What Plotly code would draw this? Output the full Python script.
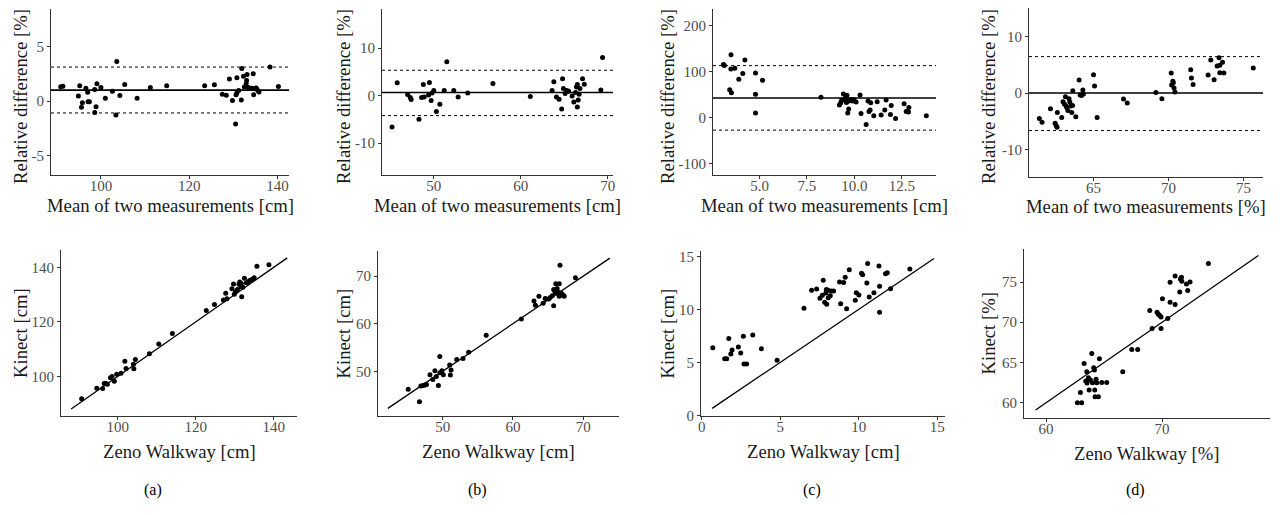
import plotly.graph_objects as go

# (a) top: Bland-Altman, mean [cm] vs relative difference [%]
a_ba_mean = [90.9, 91.4, 94.9, 95.2, 95.6, 95.8, 96.6, 97.0, 97.1, 97.4, 98.6, 98.6, 98.9, 99.1,
             100.0, 101.0, 102.6, 103.6, 103.4, 104.3, 105.4, 108.2, 111.2, 114.9, 123.5, 125.7,
             127.5, 128.4, 129.1, 129.8, 130.5, 130.6, 130.8, 130.8, 131.2, 131.8, 131.9, 132.3,
             132.5, 132.9, 133.0, 133.1, 133.4, 133.9, 134.3, 134.5, 134.6, 135.1, 135.2, 135.5,
             135.8, 138.3, 140.2]
a_ba_diff = [1.33, 1.39, 0.49, 1.42, -0.56, -0.15, 1.2, 0.83, -0.06, -0.06, 1.08, -1.05, -0.52, 1.6,
             1.27, 0.28, 0.93, 3.67, -1.27, 0.52, 1.54, 0.28, 1.27, 1.42, 1.42, 1.51,
             0.65, 0.56, 2.04, 0.06, -2.1, 0.59, 2.16, 0.77, 0.99, 0.12, 3.02, 2.31,
             1.30, 1.6, 1.91, 2.47, 1.27, 1.2, 1.2, 2.53, 0.59, 1.2, 1.23, 1.02,
             0.86, 3.15, 1.36]
# (a) bottom: Zeno vs Kinect [cm]
a_zeno = [90.7, 94.6, 96.1, 96.5, 97.0, 97.3, 98.1, 98.5, 99.1, 99.7, 100.8, 101.8, 102.1, 104.0,
          104.1, 104.5, 108.1, 110.5, 114.0, 122.7, 124.8, 127.1, 127.7, 128.0, 129.3, 129.7,
          129.9, 130.2, 130.7, 131.1, 131.3, 131.6, 131.7, 131.8, 132.1, 132.5, 133.0, 133.3,
          133.8, 134.4, 135.0, 135.7, 138.8]
a_kinect = [91.7, 95.6, 95.5, 97.3, 97.3, 97.1, 99.5, 99.9, 98.2, 100.7, 101.1, 105.5, 102.9, 104.4,
            102.8, 106.2, 108.3, 111.9, 115.7, 124.2, 126.4, 128.0, 130.5, 128.5, 132.2, 133.9,
            130.1, 131.1, 131.9, 133.8, 134.6, 132.9, 134.1, 129.2, 132.7, 136.0, 134.4, 134.5,
            135.2, 135.6, 136.2, 140.4, 141.0]

# (b)
b_ba_mean = [45.2, 45.8, 47.0, 47.3, 47.4, 48.3, 48.6, 48.8, 48.9, 49.4, 49.5, 49.7, 49.8, 50.0,
             50.7, 50.3, 51.2, 51.5, 52.3, 52.8, 53.9, 56.8, 61.1, 63.6, 63.8, 64.1, 64.4, 64.7,
             64.8, 64.9, 65.1, 65.3, 65.5, 65.9, 66.1, 66.3, 66.4, 66.5, 66.5, 66.6, 66.7, 66.8,
             67.1, 67.3, 69.2, 69.4]
b_ba_diff = [-6.6, 2.67, 0.21, -0.42, -0.84, -4.98, -0.42, 2.32, -0.28, 0.14, 2.74, -1.05, 0.56, 1.05,
             -1.82, -3.37, 1.05, 7.09, 1.05, -0.28, 0.56, 2.53, -0.21, 1.05, 2.88, -0.28, -0.77, -2.81,
             3.51, 1.47, 0.42, 1.05, 0.91, -0.07, -1.33, 0.63, 1.82, 2.32, -2.39, -0.91, 0.28, 1.47,
             3.51, 2.39, 1.19, 8.0]
b_zeno = [45.1, 46.7, 46.9, 47.2, 47.5, 47.7, 48.2, 48.6, 48.9, 49.1, 49.4, 49.6, 49.6, 49.9, 50.1,
          51.0, 51.2, 51.1, 52.0, 52.9, 53.7, 56.2, 61.2, 63.0, 63.2, 63.7, 64.3, 64.6, 65.1, 65.3,
          65.6, 65.8, 65.8, 66.0, 66.1, 66.2, 66.3, 66.5, 66.6, 66.6, 66.7, 66.9, 67.2, 67.3, 68.9]
b_kinect = [46.2, 43.6, 46.9, 47.0, 47.1, 47.2, 49.3, 48.3, 50.1, 48.9, 47.0, 53.1, 49.7, 50.1, 49.3,
            51.3, 50.3, 49.2, 52.5, 52.7, 54.0, 57.6, 61.0, 64.8, 63.9, 65.8, 64.3, 65.3, 65.2, 65.5,
            65.9, 63.8, 67.2, 66.7, 68.4, 66.4, 67.4, 66.6, 68.4, 65.8, 72.3, 66.4, 66.0, 65.8, 69.7]

# (c)
c_ba_mean = [3.10, 3.15, 3.50, 3.49, 3.70, 3.43, 3.52, 3.91, 4.12, 4.23, 4.79, 4.79, 4.79, 5.16,
             8.24, 9.21, 9.28, 9.33, 9.42, 9.47, 9.54, 9.61, 9.58, 9.65, 9.70, 9.72, 9.81, 9.91,
             9.98, 10.09, 10.30, 10.35, 10.62, 10.72, 10.77, 10.86, 10.83, 11.02, 11.20, 11.41,
             11.60, 11.67, 11.90, 11.94, 12.17, 12.62, 12.73, 12.85, 12.87, 13.79]
c_ba_diff = [115.3, 113.1, 136.5, 105.8, 107.3, 60.6, 54.0, 83.2, 95.6, 125.5, 97.1, 50.4, 9.5, 81.0,
             43.8, 27.0, 32.1, 38.0, 51.1, 38.0, 43.1, 48.2, 32.8, 9.5, 18.2, 35.8, 39.4, 35.8,
             38.7, 33.6, 48.9, 8.8, -15.3, 35.8, 13.1, 32.1, 16.1, 3.6, 34.3, 5.1,
             16.1, 38.0, 6.6, 26.3, -2.2, 29.9, 13.1, 11.7, 21.9, 3.6]
c_zeno = [0.70, 1.46, 1.59, 1.72, 1.85, 1.93, 2.33, 2.48, 2.65, 2.69, 2.86, 3.25, 3.80, 4.80,
          6.51, 7.00, 7.32, 7.53, 7.74, 7.68, 7.83, 7.91, 7.94, 7.96, 8.06, 8.04, 8.19, 8.25, 8.40,
          8.78, 8.85, 9.04, 9.14, 9.23, 9.40, 9.78, 9.85, 10.01, 10.18, 10.25, 10.52, 10.57, 10.67,
          10.97, 11.29, 11.33, 11.33, 11.71, 11.82, 12.03, 13.26]
c_kinect = [6.38, 5.35, 5.35, 7.26, 5.79, 6.16, 6.45, 5.88, 7.45, 4.84, 4.84, 7.58, 6.29, 5.19,
            10.09, 11.79, 11.92, 11.04, 12.74, 11.32, 10.66, 11.54, 11.86, 10.47, 11.10, 11.79, 11.29,
            11.73, 11.73, 12.58, 10.53, 12.52, 13.02, 10.06, 13.74, 10.85, 11.57, 11.35, 13.40, 13.27,
            12.48, 14.31, 11.16, 11.57, 14.09, 12.17, 9.72, 13.36, 13.46, 11.95, 13.81]

# (d)
d_ba_mean = [61.39, 61.57, 62.13, 62.44, 62.51, 62.57, 62.59, 62.88, 62.97, 63.06, 63.13, 63.17,
             63.22, 63.29, 63.37, 63.42, 63.49, 63.55, 63.60, 63.62, 63.82, 64.04, 64.11, 64.20,
             64.29, 64.33, 65.0, 65.07, 65.24, 67.0, 67.25, 69.16, 69.56, 70.18, 70.21, 70.29,
             70.32, 70.37, 70.43, 71.48, 71.53, 71.64, 72.64, 72.82, 73.04, 73.24, 73.37, 73.42,
             73.42, 73.60, 73.69, 75.65]
d_ba_diff = [-4.51, -5.16, -2.79, -5.34, -5.76, -6.05, -3.44, -4.33, -1.54, -1.96, -0.65, -2.31,
             -2.55, -3.09, -1.01, -1.60, -2.31, -3.44, -2.20, 0.42, -4.21, 2.31, -0.36, -0.42,
             0.53, -0.18, 3.26, 1.25, -4.33, -1.07, -1.78, 0.12, -1.01, 3.56, 1.42, 2.08,
             1.84, 0.89, 0.18, 4.15, 2.67, 1.54, 3.20, 5.88, 2.37, 4.81, 6.29, 4.93,
             3.62, 5.46, 3.56, 4.45]
d_zeno = [62.70, 63.07, 62.96, 63.28, 63.42, 63.51, 63.53, 63.65, 63.71, 63.82, 63.94, 64.0, 64.11,
          64.17, 64.20, 64.22, 64.31, 64.37, 64.51, 64.60, 64.80, 65.23, 66.61, 67.39, 67.90, 68.94,
          69.14, 69.57, 69.68, 69.80, 69.91, 69.91, 70.03, 70.49, 70.69, 70.69, 71.12, 71.12, 71.52,
          71.58, 71.67, 71.70, 72.10, 72.21, 72.41, 73.99]
d_kinect = [60.0, 60.0, 61.28, 64.88, 62.69, 63.84, 62.44, 63.10, 61.57, 62.81, 66.12, 62.48, 64.34,
            64.05, 61.57, 60.74, 62.93, 62.48, 60.74, 65.45, 62.52, 62.52, 63.84, 66.61, 66.61, 71.45,
            69.21, 71.24, 70.99, 70.83, 70.66, 69.21, 72.93, 70.45, 74.96, 72.48, 75.74, 72.19, 73.76,
            75.37, 75.58, 75.08, 74.75, 73.93, 75.0, 77.31]

# bias and limits of agreement per panel
ba_bias = [1.02, 0.63, 42.3, 0.0]
ba_upper = [3.15, 5.33, 113.0, 6.47]
ba_lower = [-1.08, -4.21, -27.7, -6.65]
# identity line extents per panel
id_lo = [88.0, 42.2, 0.66, 59.1]
id_hi = [143.5, 73.8, 14.8, 78.3]

units = ["cm", "cm", "cm", "%"]
captions = ["(a)", "(b)", "(c)", "(d)"]

ba_data = [(a_ba_mean, a_ba_diff), (b_ba_mean, b_ba_diff), (c_ba_mean, c_ba_diff), (d_ba_mean, d_ba_diff)]
sc_data = [(a_zeno, a_kinect), (b_zeno, b_kinect), (c_zeno, c_kinect), (d_zeno, d_kinect)]

W, H = 1280, 515
OFF = 8  # page body margin
FONT = "Liberation Serif"
TICK_COL = "#4d4d4d"
TITLE_COL = "#1a1a1a"


def px(x):
    return (x - OFF) / W


def py(y):
    return 1 - (y - OFF) / H


# pixel boxes on the page [x0, x1, y0(top), y1(bottom)]
top_boxes = [(51, 289, 9, 175), (382, 613, 9, 175), (713, 936, 9, 175), (1029, 1263, 8, 177)]
bot_boxes = [(61, 297, 250, 416), (378, 619, 251, 416), (701, 945, 251, 416), (1024, 1270, 249, 418)]
# title positions on the page
top_ytitle_x = [20, 343, 667, 988]
bot_ytitle_x = [20, 343, 667, 988]
top_ytitle_y = 97
top_xtitle_y = [205, 205, 205, 207]
bot_xtitle_y = [451, 451, 451, 453]
caption_x = [153, 477, 812, 1135]
caption_y = 490

top_xr = [[88.7, 142.6], [44.05, 70.6], [2.55, 14.3], [60.7, 76.3]]
top_yr = [[-6.8, 8.5], [-16.7, 18.2], [-125.5, 236.5], [-14.9, 15.1]]
bot_xr = [[85.4, 146.0], [40.8, 75.1], [-0.05, 15.5], [58.1, 79.3]]
bot_yr = [[85.4, 146.4], [40.6, 75.3], [-0.06, 15.5], [58.1, 79.1]]

top_xt = [([100, 120, 140], ["100", "120", "140"]), ([50, 60, 70], ["50", "60", "70"]),
          ([5, 7.5, 10, 12.5], ["5.0", "7.5", "10.0", "12.5"]), ([65, 70, 75], ["65", "70", "75"])]
top_yt = [([-5, 0, 5], ["-5", "0", "5"]), ([-10, 0, 10], ["-10", "0", "10"]),
          ([-100, 0, 100, 200], ["-100", "0", "100", "200"]), ([-10, 0, 10], ["-10", "0", "10"])]
bot_xt = [([100, 120, 140], ["100", "120", "140"]), ([50, 60, 70], ["50", "60", "70"]),
          ([0, 5, 10, 15], ["0", "5", "10", "15"]), ([60, 70], ["60", "70"])]
bot_yt = [([100, 120, 140], ["100", "120", "140"]), ([50, 60, 70], ["50", "60", "70"]),
          ([0, 5, 10, 15], ["0", "5", "10", "15"]), ([60, 65, 70, 75], ["60", "65", "70", "75"])]

fig = go.Figure()
layout = {}
shapes = []
annotations = []


def axis(box, rng, ticks, horizontal):
    x0, x1, y0, y1 = box
    d = dict(
        range=rng, tickvals=ticks[0], ticktext=ticks[1], automargin=False,
        showgrid=False, zeroline=False, showline=True, linecolor="#333333", linewidth=1,
        ticks="outside", ticklen=3, tickcolor="#333333", mirror=False,
        tickfont=dict(family=FONT, size=15, color=TICK_COL),
    )
    if horizontal:
        d["domain"] = [px(x0), px(x1)]
        d["ticklabelstandoff"] = -6
    else:
        d["domain"] = [py(y1), py(y0)]
    return d


def title(text, x, y, angle=0):
    return dict(text=text, xref="paper", yref="paper", x=px(x), y=py(y),
                showarrow=False, textangle=angle, xanchor="center", yanchor="middle",
                font=dict(family=FONT, size=18.7, color=TITLE_COL))


for i in range(4):
    # Bland-Altman panel
    n = i + 1
    xs = "x" if n == 1 else f"x{n}"
    ys = "y" if n == 1 else f"y{n}"
    mx, dy = ba_data[i]
    fig.add_trace(go.Scatter(x=mx, y=dy, mode="markers", xaxis=xs, yaxis=ys,
                             marker=dict(size=5, color="black"), showlegend=False))
    xa = axis(top_boxes[i], top_xr[i], top_xt[i], True)
    ya = axis(top_boxes[i], top_yr[i], top_yt[i], False)
    xa["anchor"] = ys
    ya["anchor"] = xs
    layout["xaxis" if n == 1 else f"xaxis{n}"] = xa
    layout["yaxis" if n == 1 else f"yaxis{n}"] = ya
    for val, dash, w in [(ba_bias[i], "solid", 1.6), (ba_upper[i], "dot", 1), (ba_lower[i], "dot", 1)]:
        shapes.append(dict(type="line", xref=f"{xs} domain", yref=ys, x0=0, x1=1, y0=val, y1=val,
                           line=dict(color="black", width=w, dash=dash)))
    tb = top_boxes[i]
    annotations.append(title(f"Mean of two measurements [{units[i]}]", (tb[0] + tb[1]) / 2, top_xtitle_y[i]))
    annotations.append(title("Relative difference [%]", top_ytitle_x[i], top_ytitle_y, -90))

    # scatter panel
    m = i + 5
    xs2, ys2 = f"x{m}", f"y{m}"
    zx, ky = sc_data[i]
    fig.add_trace(go.Scatter(x=[id_lo[i], id_hi[i]], y=[id_lo[i], id_hi[i]], mode="lines",
                             xaxis=xs2, yaxis=ys2, line=dict(color="black", width=1.3), showlegend=False))
    fig.add_trace(go.Scatter(x=zx, y=ky, mode="markers", xaxis=xs2, yaxis=ys2,
                             marker=dict(size=5, color="black"), showlegend=False))
    xa = axis(bot_boxes[i], bot_xr[i], bot_xt[i], True)
    ya = axis(bot_boxes[i], bot_yr[i], bot_yt[i], False)
    xa["anchor"] = ys2
    ya["anchor"] = xs2
    layout[f"xaxis{m}"] = xa
    layout[f"yaxis{m}"] = ya
    bb = bot_boxes[i]
    annotations.append(title(f"Zeno Walkway [{units[i]}]", (bb[0] + bb[1]) / 2, bot_xtitle_y[i]))
    annotations.append(title(f"Kinect [{units[i]}]", bot_ytitle_x[i], (bb[2] + bb[3]) / 2, -90))

    annotations.append(dict(text=captions[i], xref="paper", yref="paper",
                            x=px(caption_x[i]), y=py(caption_y), showarrow=False,
                            xanchor="center", yanchor="middle",
                            font=dict(family=FONT, size=16, color="black")))

fig.update_layout(
    width=W, height=H,
    margin=dict(l=0, r=0, t=0, b=0, autoexpand=False),
    paper_bgcolor="white", plot_bgcolor="white",
    shapes=shapes, annotations=annotations,
    **layout,
)

fig.write_html("out.html")
